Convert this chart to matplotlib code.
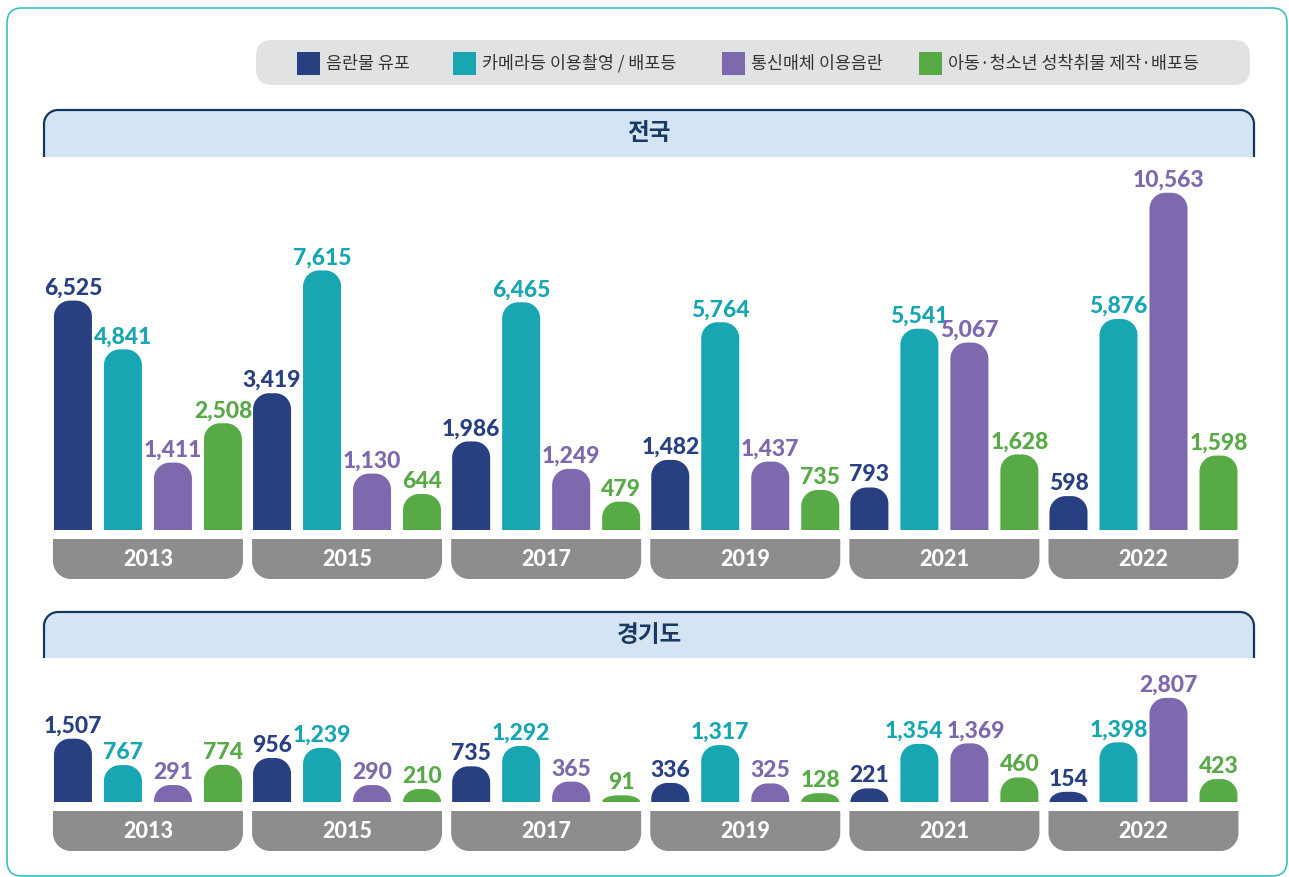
import numpy as np
import matplotlib
matplotlib.use('Agg')
import matplotlib.pyplot as plt
from matplotlib.path import Path
from matplotlib.patches import PathPatch, FancyBboxPatch, Rectangle
from matplotlib.transforms import IdentityTransform

years = ['2013', '2015', '2017', '2019', '2021', '2022']
series = ['음란물 유포', '카메라등 이용촬영 / 배포등', '통신매체 이용음란',
          '아동·청소년 성착취물 제작·배포등']
colors = ['#283f82', '#17a6b2', '#7e68ae', '#58aa47']

# 전국
nat_porn = [6525, 3419, 1986, 1482, 793, 598]
nat_camera = [4841, 7615, 6465, 5764, 5541, 5876]
nat_comm = [1411, 1130, 1249, 1437, 5067, 10563]
nat_child = [2508, 644, 479, 735, 1628, 1598]

# 경기도
gg_porn = [1507, 956, 735, 336, 221, 154]
gg_camera = [767, 1239, 1292, 1317, 1354, 1398]
gg_comm = [291, 290, 365, 325, 1369, 2807]
gg_child = [774, 210, 91, 128, 460, 423]

W, H = 1289, 877
KR = ['Noto Sans CJK KR', 'DejaVu Sans']
NUM = ['Lato', 'DejaVu Sans']
K = 0.5523
ID = IdentityTransform()

fig = plt.figure(figsize=(W / 100, H / 100), dpi=100)


def rounded(x0, y0, x1, y1, rt=0, rb=0):
    # y goes up; rt = radius of top corners, rb = radius of bottom corners
    h = y1 - y0
    rtx, rty = rt, min(rt, h)
    rbx, rby = rb, min(rb, h)
    v = [(x0 + rbx, y0), (x1 - rbx, y0)]
    c = [Path.MOVETO, Path.LINETO]
    if rb:
        v += [(x1 - rbx + K * rbx, y0), (x1, y0 + rby - K * rby), (x1, y0 + rby)]
        c += [Path.CURVE4] * 3
    v.append((x1, y1 - rty)); c.append(Path.LINETO)
    if rt:
        v += [(x1, y1 - rty + K * rty), (x1 - rtx + K * rtx, y1), (x1 - rtx, y1)]
        c += [Path.CURVE4] * 3
    v.append((x0 + rtx, y1)); c.append(Path.LINETO)
    if rt:
        v += [(x0 + rtx - K * rtx, y1), (x0, y1 - rty + K * rty), (x0, y1 - rty)]
        c += [Path.CURVE4] * 3
    v.append((x0, y0 + rby)); c.append(Path.LINETO)
    if rb:
        v += [(x0, y0 + rby - K * rby), (x0 + rbx - K * rbx, y0), (x0 + rbx, y0)]
        c += [Path.CURVE4] * 3
    v.append((x0 + rbx, y0)); c.append(Path.CLOSEPOLY)
    return Path(v, c)


def header(top, bottom, title):
    x0, x1, r = 44, 1254, 14
    y0, y1 = H - bottom, H - top
    fig.add_artist(PathPatch(rounded(x0, y0, x1, y1, rt=r), fc='#d5e4f5',
                             ec='none', transform=ID))
    v = [(x0, y0), (x0, y1 - r), (x0, y1 - r + K * r), (x0 + r - K * r, y1), (x0 + r, y1),
         (x1 - r, y1), (x1 - r + K * r, y1), (x1, y1 - r + K * r), (x1, y1 - r), (x1, y0)]
    c = [Path.MOVETO, Path.LINETO] + [Path.CURVE4] * 3 + [Path.LINETO] + [Path.CURVE4] * 3 + [Path.LINETO]
    fig.add_artist(PathPatch(Path(v, c), fc='none', ec='#14375f', lw=1.6,
                             transform=ID, capstyle='butt'))
    fig.text((x0 + x1) / 2, H - (top + bottom) / 2, title, transform=ID,
             ha='center', va='center', fontsize=17, fontweight='bold',
             color='#163a62', family=KR, zorder=5)


def fwd(y):
    return np.sign(y) * np.abs(y) ** 0.8


def inv(y):
    return np.sign(y) * np.abs(y) ** 1.25


def panel(top_px, base_px, ymax, data, nudge=None):
    nudge = nudge or {}
    ax = fig.add_axes([44 / W, 1 - base_px / H, 1210 / W, (base_px - top_px) / H])
    ax.set_zorder(3)
    ax.set_yscale('function', functions=(fwd, inv))
    ax.set_ylim(0, ymax)
    ax.set_xlim(-0.522, 5.555)
    ax.axis('off')
    x = np.arange(len(years))
    step, width = 0.2511, 0.1909
    for j, vals in enumerate(data):
        xs = x + (j - 1.5) * step
        bars = ax.bar(xs, vals, width, color=colors[j])
        for i, (rect, v, xc) in enumerate(zip(bars, vals, xs)):
            rect.set_visible(False)
            (px0, py0), (px1, py1) = ax.transData.transform(
                [(rect.get_x(), 0), (rect.get_x() + rect.get_width(), v)])
            fig.add_artist(PathPatch(rounded(px0, py0, px1, py1, rt=16),
                                     fc=colors[j], ec='none', transform=ID))
            ax.annotate(f'{v:,}', (xc, v), xytext=(nudge.get((i, j), 0), 1.5),
                        textcoords='offset points',
                        ha='center', va='bottom', fontsize=16.5, fontweight='black',
                        color=colors[j], family=NUM, annotation_clip=False)
    # year boxes
    for i, yr in enumerate(years):
        cx = ax.transData.transform((i, 0))[0]
        b0, b1 = H - (base_px + 49), H - (base_px + 9)
        fig.add_artist(PathPatch(rounded(cx - 95, b0, cx + 95, b1, rb=18),
                                 fc='#8c8d8f', ec='none', transform=ID))
        fig.text(cx, (b0 + b1) / 2 - 1, yr, transform=ID, ha='center', va='center',
                 fontsize=15.5, fontweight='black', color='white', family=NUM,
                 zorder=5)
    return ax


# outer frame
fig.add_artist(FancyBboxPatch((7, H - 876), 1280, 868,
                              boxstyle='round,pad=0,rounding_size=15',
                              fc='none', ec='#3dbfc6', lw=1.2, transform=ID))

# legend box
fig.add_artist(FancyBboxPatch((256, H - 85), 994, 45,
                              boxstyle='round,pad=0,rounding_size=16',
                              fc='#e1e2e4', ec='none', transform=ID))
for xs, name, col in zip([297, 453, 722, 919], series, colors):
    fig.add_artist(Rectangle((xs, H - 75), 23, 23, fc=col, ec='none', transform=ID))
    fig.text(xs + 29, H - 63.5, name, transform=ID, ha='left', va='center',
             fontsize=12.5, color='#333333', family=KR, zorder=5)

header(110, 157, '전국')
panel(160, 530, 11860, [nat_porn, nat_camera, nat_comm, nat_child])

header(612, 658, '경기도')
panel(665, 802, 3955, [gg_porn, gg_camera, gg_comm, gg_child],
      nudge={(4, 1): -4, (4, 2): 5})

fig.savefig('out.png', dpi=100)
